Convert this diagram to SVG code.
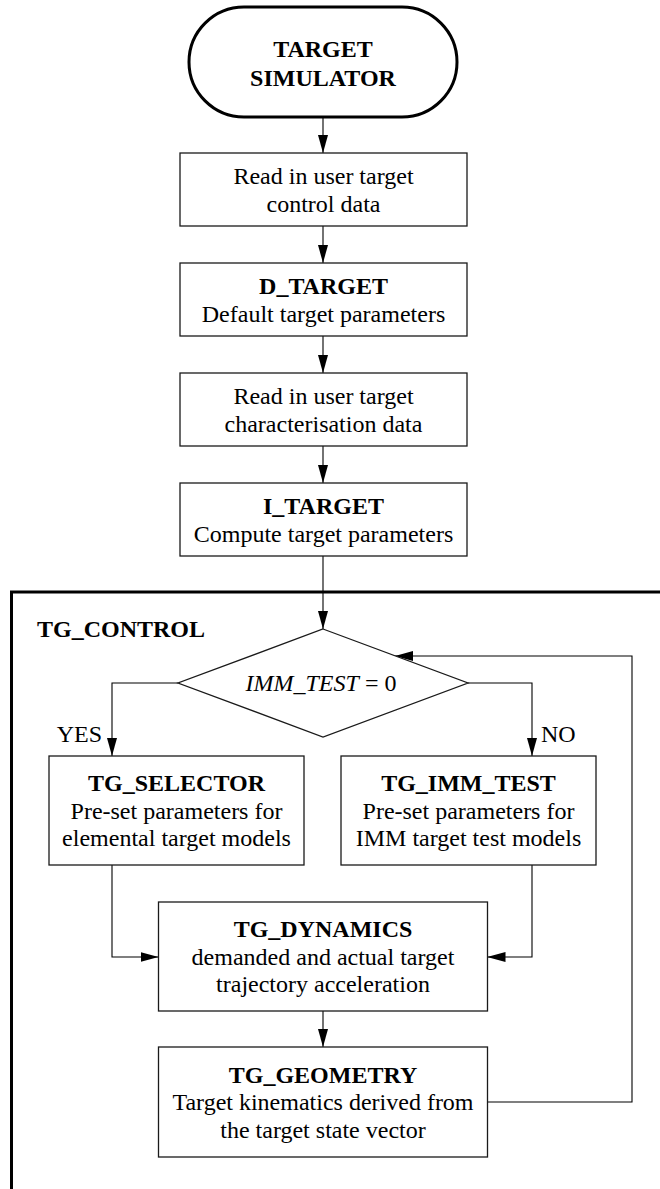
<svg xmlns="http://www.w3.org/2000/svg" width="660" height="1189" viewBox="0 0 660 1189">
  <style>
    .box { fill: #ffffff; stroke: #1a1a1a; stroke-width: 1.3; }
    .term { fill: #ffffff; stroke: #000000; stroke-width: 3; }
    .frame { fill: none; stroke: #000000; stroke-width: 3; }
    .wire { fill: none; stroke: #000000; stroke-width: 1.1; }
    text { font-family: "Liberation Serif", "Times New Roman", serif; font-size: 24px; fill: #000000; text-anchor: middle; }
    .b { font-weight: bold; }
    .it { font-style: italic; }
  </style>
  <defs>
    <marker id="arrow" viewBox="0 0 18 10" refX="18" refY="5" markerWidth="18" markerHeight="10" markerUnits="userSpaceOnUse" orient="auto">
      <path d="M0,0 L18,5 L0,10 Z" fill="#000000"/>
    </marker>
  </defs>

  <!-- TG_CONTROL container frame (open to the right and bottom) -->
  <path class="frame" d="M664,592 H11.5 V1195"/>

  <g id="connectors">
    <line class="wire" x1="323" y1="117" x2="323" y2="153" marker-end="url(#arrow)"/>
    <line class="wire" x1="323" y1="226" x2="323" y2="263" marker-end="url(#arrow)"/>
    <line class="wire" x1="323" y1="336" x2="323" y2="373" marker-end="url(#arrow)"/>
    <line class="wire" x1="323" y1="446" x2="323" y2="483" marker-end="url(#arrow)"/>
    <line class="wire" x1="323" y1="556" x2="323" y2="629" marker-end="url(#arrow)"/>
    <polyline class="wire" points="178,683 112,683 112,756" marker-end="url(#arrow)"/>
    <polyline class="wire" points="468,683 532,683 532,756" marker-end="url(#arrow)"/>
    <polyline class="wire" points="112,865 112,957 158.5,957" marker-end="url(#arrow)"/>
    <polyline class="wire" points="532,865 532,957 487.5,957" marker-end="url(#arrow)"/>
    <line class="wire" x1="323" y1="1011" x2="323" y2="1047" marker-end="url(#arrow)"/>
    <polyline class="wire" points="487.5,1102 632,1102 632,656 395,656" marker-end="url(#arrow)"/>
  </g>

  <g id="target-simulator">
    <rect class="term" x="189" y="7" width="268" height="110" rx="55"/>
    <text class="b" x="323" y="57">TARGET</text>
    <text class="b" x="323" y="86">SIMULATOR</text>
  </g>

  <g id="read-control">
    <rect class="box" x="180" y="153" width="287" height="73"/>
    <text x="323.5" y="184">Read in user target</text>
    <text x="323.5" y="212">control data</text>
  </g>

  <g id="d-target">
    <rect class="box" x="180" y="263" width="287" height="73"/>
    <text class="b" x="323.5" y="294">D_TARGET</text>
    <text x="323.5" y="322">Default target parameters</text>
  </g>

  <g id="read-characterisation">
    <rect class="box" x="180" y="373" width="287" height="73"/>
    <text x="323.5" y="404">Read in user target</text>
    <text x="323.5" y="432">characterisation data</text>
  </g>

  <g id="i-target">
    <rect class="box" x="180" y="483" width="287" height="73"/>
    <text class="b" x="323.5" y="514">I_TARGET</text>
    <text x="323.5" y="542">Compute target parameters</text>
  </g>

  <g id="tg-control-label">
    <text class="b" x="37" y="637" style="text-anchor:start">TG_CONTROL</text>
  </g>

  <g id="imm-test-decision">
    <polygon class="box" points="323,629 468,683 323,737 178,683"/>
    <text x="321" y="691"><tspan class="it">IMM_TEST</tspan><tspan dx="6">=</tspan><tspan dx="6">0</tspan></text>
  </g>

  <g id="branch-labels">
    <text x="102" y="742" style="text-anchor:end">YES</text>
    <text x="541" y="742" style="text-anchor:start">NO</text>
  </g>

  <g id="tg-selector">
    <rect class="box" x="49" y="756" width="255" height="109"/>
    <text class="b" x="176.5" y="791">TG_SELECTOR</text>
    <text x="176.5" y="818.5">Pre-set parameters for</text>
    <text x="176.5" y="846">elemental target models</text>
  </g>

  <g id="tg-imm-test">
    <rect class="box" x="341" y="756" width="255" height="109"/>
    <text class="b" x="468.5" y="791">TG_IMM_TEST</text>
    <text x="468.5" y="818.5">Pre-set parameters for</text>
    <text x="468.5" y="846">IMM target test models</text>
  </g>

  <g id="tg-dynamics">
    <rect class="box" x="158.5" y="902" width="329" height="109"/>
    <text class="b" x="323" y="937">TG_DYNAMICS</text>
    <text x="323" y="964.5">demanded and actual target</text>
    <text x="323" y="992">trajectory acceleration</text>
  </g>

  <g id="tg-geometry">
    <rect class="box" x="158.5" y="1047" width="329" height="110"/>
    <text class="b" x="323" y="1082.5">TG_GEOMETRY</text>
    <text x="323" y="1110">Target kinematics derived from</text>
    <text x="323" y="1137.5">the target state vector</text>
  </g>
</svg>
